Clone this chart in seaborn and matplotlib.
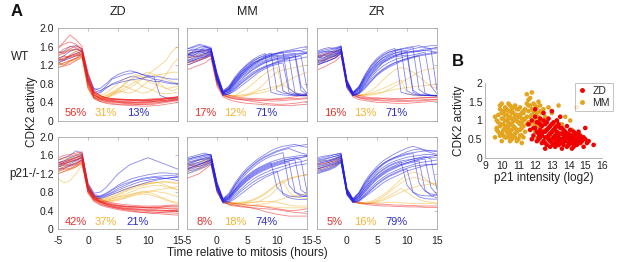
import numpy as np
import pandas as pd
import matplotlib
matplotlib.use("Agg")
import matplotlib.pyplot as plt
import seaborn as sns
from matplotlib.lines import Line2D

sns.set_theme(style="white")
plt.rcParams["font.family"] = ["Liberation Sans", "DejaVu Sans"]

# ---------------- data ----------------
T = list(range(-5, 16))  # hours relative to mitosis

# ZD, WT
zd_wt_red = [
    [1.30,1.35,1.40,1.45,1.50,0.85,0.55,0.48,0.45,0.44,0.43,0.42,0.42,0.41,0.41,0.40,0.42,0.43,0.45,0.47,0.48],
    [1.45,1.55,1.60,1.58,1.52,0.95,0.60,0.52,0.48,0.46,0.45,0.45,0.44,0.44,0.43,0.44,0.45,0.46,0.48,0.50,0.52],
    [1.20,1.25,1.30,1.35,1.40,0.80,0.50,0.42,0.40,0.38,0.36,0.36,0.35,0.35,0.36,0.37,0.38,0.40,0.42,0.44,0.46],
    [1.55,1.70,1.85,1.75,1.60,1.00,0.62,0.55,0.50,0.48,0.47,0.46,0.46,0.45,0.45,0.46,0.46,0.47,0.48,0.50,0.50],
    [1.35,1.30,1.38,1.42,1.48,0.90,0.58,0.50,0.46,0.44,0.42,0.41,0.40,0.40,0.41,0.42,0.43,0.44,0.45,0.46,0.47],
    [1.25,1.20,1.28,1.35,1.45,0.75,0.50,0.45,0.42,0.40,0.39,0.38,0.37,0.36,0.36,0.35,0.36,0.38,0.40,0.42,0.44],
    [1.40,1.48,1.52,1.55,1.50,0.88,0.56,0.50,0.47,0.46,0.46,0.45,0.45,0.46,0.46,0.47,0.48,0.49,0.50,0.51,0.52],
    [1.15,1.18,1.22,1.30,1.38,0.70,0.48,0.42,0.38,0.36,0.35,0.34,0.33,0.33,0.32,0.32,0.33,0.34,0.36,0.38,0.40],
    [1.50,1.45,1.55,1.62,1.55,0.95,0.62,0.54,0.50,0.48,0.47,0.47,0.46,0.46,0.45,0.45,0.46,0.47,0.48,0.49,0.50],
    [1.30,1.40,1.35,1.40,1.42,0.82,0.52,0.46,0.43,0.42,0.41,0.40,0.40,0.40,0.40,0.41,0.42,0.43,0.44,0.45,0.46],
    [1.60,1.65,1.70,1.65,1.55,1.05,0.65,0.55,0.50,0.48,0.47,0.46,0.45,0.44,0.44,0.44,0.45,0.46,0.48,0.50,0.52],
    [1.25,1.32,1.42,1.50,1.52,0.90,0.55,0.48,0.44,0.42,0.40,0.39,0.38,0.38,0.38,0.39,0.40,0.41,0.42,0.44,0.45],
]
zd_wt_yellow = [
    [1.30,1.35,1.40,1.45,1.40,0.80,0.55,0.50,0.55,0.62,0.70,0.75,0.70,0.65,0.60,0.62,0.70,0.85,1.00,1.20,1.35],
    [1.20,1.25,1.30,1.35,1.45,0.85,0.60,0.55,0.60,0.70,0.80,0.90,0.95,1.00,0.95,0.85,0.80,0.75,0.70,0.72,0.75],
    [1.45,1.50,1.55,1.50,1.40,0.75,0.50,0.45,0.48,0.55,0.60,0.65,0.72,0.80,0.90,1.00,1.10,1.20,1.30,1.50,1.60],
    [1.35,1.40,1.38,1.42,1.48,0.90,0.58,0.52,0.50,0.55,0.65,0.80,0.90,0.85,0.75,0.70,0.65,0.60,0.58,0.60,0.62],
    [1.25,1.22,1.30,1.32,1.40,0.78,0.52,0.48,0.52,0.58,0.62,0.70,0.78,0.85,0.92,0.95,0.98,1.00,1.02,1.05,1.05],
    [1.40,1.45,1.50,1.55,1.50,0.85,0.55,0.50,0.55,0.60,0.65,0.62,0.60,0.65,0.75,0.85,0.90,0.80,0.70,0.65,0.70],
    [1.15,1.20,1.25,1.30,1.35,0.70,0.50,0.45,0.50,0.58,0.68,0.78,0.88,0.95,1.00,1.05,1.00,0.95,0.90,0.85,0.80],
]
zd_wt_blue = [
    [1.35,1.40,1.50,1.55,1.50,0.90,0.65,0.62,0.75,0.90,0.95,1.00,1.02,1.05,1.00,0.98,0.95,0.95,0.92,0.90,0.90],
    [1.25,1.30,1.35,1.40,1.45,0.85,0.60,0.60,0.70,0.80,0.85,0.90,0.95,0.95,0.90,0.88,0.85,0.85,0.82,0.80,0.80],
    [1.45,1.50,1.60,1.62,1.55,1.00,0.70,0.65,0.72,0.78,0.82,0.85,0.88,0.90,0.92,0.95,0.95,0.55,0.50,0.48,0.50],
    [1.30,1.32,1.40,1.45,1.50,0.95,0.68,0.70,0.80,0.92,1.00,1.05,1.08,1.05,1.00,0.95,0.90,0.88,0.85,0.82,0.80],
]

# MM, WT
mm_wt_red = [
    [1.20,1.25,1.30,1.35,1.40,0.80,0.55,0.50,0.47,0.46,0.45,0.45,0.44,0.44,0.43,0.43,0.44,0.45,0.46,0.47,0.48],
    [1.35,1.40,1.38,1.45,1.48,0.88,0.58,0.52,0.50,0.48,0.47,0.46,0.45,0.45,0.46,0.46,0.47,0.48,0.48,0.49,0.50],
    [1.10,1.15,1.20,1.25,1.35,0.75,0.52,0.46,0.42,0.40,0.38,0.37,0.36,0.35,0.34,0.34,0.33,0.33,0.34,0.35,0.36],
    [1.45,1.48,1.50,1.52,1.50,0.92,0.60,0.55,0.52,0.50,0.49,0.48,0.48,0.47,0.47,0.48,0.49,0.50,0.52,0.55,0.58],
    [1.25,1.28,1.32,1.38,1.42,0.82,0.56,0.50,0.48,0.46,0.44,0.42,0.40,0.38,0.37,0.36,0.36,0.37,0.38,0.40,0.42],
]
mm_wt_yellow = [
    [1.30,1.35,1.40,1.42,1.45,0.85,0.58,0.55,0.55,0.56,0.58,0.62,0.70,0.82,0.95,1.05,1.10,1.12,1.15,1.18,1.20],
    [1.40,1.42,1.48,1.50,1.52,0.90,0.60,0.55,0.53,0.52,0.55,0.60,0.65,0.68,0.72,0.75,0.78,0.70,0.62,0.58,0.55],
    [1.25,1.28,1.32,1.36,1.40,0.80,0.55,0.52,0.55,0.62,0.70,0.80,0.92,1.02,1.10,1.15,0.65,0.58,0.55,0.55,0.56],
    [1.35,1.38,1.42,1.45,1.48,0.88,0.60,0.56,0.54,0.54,0.56,0.58,0.60,0.62,0.66,0.72,0.80,0.88,0.95,1.00,1.05],
]
mm_wt_blue = [
    [1.40,1.45,1.50,1.45,1.50,0.95,0.62,0.65,0.80,0.95,1.05,1.15,1.22,1.28,1.32,1.35,1.38,1.40,1.42,1.45,1.45],
    [1.30,1.35,1.40,1.42,1.48,0.90,0.58,0.62,0.75,0.88,1.00,1.10,1.18,1.25,1.30,1.34,1.36,1.38,0.60,0.55,0.55],
    [1.50,1.55,1.52,1.58,1.55,1.00,0.60,0.70,0.90,1.05,1.15,1.25,1.30,1.35,1.40,1.42,0.65,0.58,0.55,0.55,0.56],
    [1.45,1.40,1.48,1.50,1.52,0.92,0.60,0.68,0.85,1.00,1.12,1.22,1.30,1.38,1.42,1.45,1.48,1.50,1.52,1.50,1.48],
    [1.25,1.30,1.35,1.38,1.45,0.88,0.56,0.58,0.68,0.80,0.90,1.00,1.08,1.15,1.20,1.25,1.28,1.30,1.32,1.35,1.38],
    [1.55,1.60,1.65,1.62,1.58,1.05,0.65,0.75,0.95,1.10,1.22,1.32,1.40,1.45,0.62,0.58,0.56,0.55,0.55,0.54,0.54],
    [1.35,1.38,1.42,1.45,1.50,0.92,0.60,0.64,0.78,0.92,1.02,1.12,1.20,1.26,1.30,1.32,1.34,1.36,1.38,1.40,0.70],
    [1.40,1.50,1.55,1.52,1.55,0.98,0.62,0.70,0.88,1.02,1.15,1.25,1.32,1.38,1.42,1.46,1.50,1.52,1.55,1.58,1.60],
    [1.20,1.25,1.30,1.35,1.42,0.85,0.55,0.58,0.65,0.75,0.85,0.95,1.05,1.12,1.18,1.22,1.25,0.62,0.58,0.56,0.55],
    [1.45,1.48,1.50,1.55,1.52,0.96,0.62,0.68,0.82,0.98,1.10,1.20,1.28,1.34,1.38,1.40,1.42,1.44,1.46,0.75,0.60],
    [1.30,1.32,1.38,1.40,1.46,0.90,0.58,0.62,0.72,0.85,0.95,1.05,1.12,1.18,1.22,1.26,1.30,1.34,1.38,1.42,1.46],
    [1.50,1.52,1.58,1.60,1.55,1.02,0.64,0.72,0.90,1.05,1.18,1.28,1.36,1.42,1.46,0.65,0.60,0.58,0.57,0.56,0.56],
    [1.38,1.42,1.45,1.48,1.50,0.94,0.60,0.66,0.82,0.96,1.08,1.18,1.25,1.30,1.35,1.38,1.40,1.42,1.44,1.46,1.48],
    [1.28,1.30,1.35,1.38,1.44,0.88,0.57,0.60,0.70,0.82,0.92,1.02,1.10,1.16,1.22,1.28,1.32,1.36,1.40,0.65,0.58],
    [1.42,1.46,1.50,1.52,1.54,0.96,0.61,0.70,0.86,1.00,1.12,1.22,1.30,1.36,1.40,1.44,1.46,1.48,1.50,1.52,1.55],
    [1.55,1.58,1.62,1.60,1.56,1.00,0.63,0.74,0.92,1.08,1.20,1.30,1.36,1.40,1.44,1.46,1.48,0.70,0.60,0.58,0.58],
]

# ZR, WT
zr_wt_red = [
    [1.20,1.25,1.30,1.35,1.45,0.75,0.55,0.50,0.48,0.47,0.46,0.45,0.45,0.45,0.44,0.44,0.45,0.45,0.46,0.46,0.47],
    [1.35,1.40,1.45,1.48,1.52,0.82,0.58,0.52,0.50,0.49,0.48,0.48,0.47,0.47,0.47,0.48,0.48,0.49,0.50,0.50,0.51],
    [1.10,1.15,1.22,1.28,1.40,0.70,0.52,0.46,0.44,0.42,0.40,0.40,0.39,0.38,0.38,0.38,0.39,0.40,0.41,0.42,0.43],
    [1.40,1.42,1.48,1.50,1.55,0.85,0.60,0.55,0.52,0.50,0.50,0.49,0.49,0.48,0.48,0.48,0.49,0.50,0.50,0.51,0.52],
    [1.28,1.30,1.35,1.40,1.48,0.78,0.56,0.50,0.47,0.45,0.44,0.43,0.43,0.42,0.42,0.42,0.43,0.43,0.44,0.45,0.46],
]
zr_wt_yellow = [
    [1.30,1.32,1.38,1.42,1.50,0.78,0.56,0.55,0.58,0.65,0.75,0.88,1.00,1.10,1.15,1.12,1.05,0.95,0.85,0.75,0.70],
    [1.40,1.42,1.45,1.48,1.52,0.82,0.58,0.55,0.55,0.56,0.58,0.62,0.68,0.75,0.82,0.90,0.98,1.05,1.10,1.12,1.15],
    [1.25,1.28,1.32,1.38,1.45,0.74,0.55,0.54,0.56,0.60,0.65,0.70,0.76,0.82,0.88,0.60,0.55,0.54,0.54,0.55,0.55],
    [1.35,1.38,1.40,1.44,1.50,0.80,0.57,0.56,0.57,0.58,0.60,0.62,0.65,0.68,0.70,0.72,0.74,0.75,0.76,0.78,0.80],
]
zr_wt_blue = [
    [1.40,1.35,1.42,1.48,1.55,0.80,0.58,0.68,0.88,1.05,1.20,1.30,1.38,1.42,1.45,1.48,1.50,1.50,1.52,1.50,1.48],
    [1.30,1.32,1.38,1.42,1.50,0.78,0.56,0.62,0.80,0.98,1.12,1.25,1.32,1.38,1.40,1.42,0.62,0.56,0.55,0.55,0.54],
    [1.45,1.50,1.48,1.52,1.60,0.85,0.60,0.72,0.95,1.15,1.30,1.40,1.48,1.52,1.55,1.58,1.60,1.62,1.58,1.55,1.55],
    [1.25,1.28,1.35,1.40,1.48,0.75,0.55,0.60,0.75,0.90,1.02,1.12,1.20,1.26,1.30,1.34,1.38,1.40,0.60,0.55,0.54],
    [1.50,1.55,1.58,1.55,1.62,0.88,0.62,0.75,1.00,1.20,1.35,1.45,1.52,1.56,0.62,0.58,0.56,0.55,0.55,0.54,0.54],
    [1.35,1.40,1.42,1.45,1.52,0.80,0.58,0.66,0.85,1.02,1.18,1.28,1.35,1.40,1.44,1.46,1.48,1.50,1.52,1.54,0.65],
    [1.20,1.25,1.30,1.35,1.45,0.72,0.54,0.58,0.70,0.85,0.98,1.08,1.16,1.22,1.28,1.32,1.36,1.40,1.42,1.44,1.46],
    [1.42,1.45,1.50,1.50,1.56,0.84,0.60,0.70,0.92,1.10,1.25,1.36,1.44,1.50,1.54,1.56,1.58,0.68,0.58,0.56,0.55],
    [1.32,1.35,1.40,1.44,1.50,0.78,0.56,0.64,0.82,1.00,1.15,1.26,1.34,1.40,1.44,1.48,1.50,1.52,1.55,1.56,1.58],
    [1.48,1.52,1.55,1.58,1.60,0.86,0.61,0.73,0.98,1.18,1.32,1.42,1.48,1.52,1.55,0.65,0.58,0.56,0.55,0.55,0.55],
    [1.28,1.30,1.36,1.40,1.48,0.76,0.55,0.62,0.78,0.94,1.08,1.18,1.26,1.32,1.36,1.40,1.42,1.45,1.48,0.75,0.58],
    [1.38,1.42,1.46,1.48,1.54,0.82,0.59,0.68,0.90,1.08,1.22,1.32,1.40,1.46,1.50,1.52,1.55,1.58,1.60,1.62,1.62],
    [1.22,1.26,1.30,1.36,1.46,0.74,0.55,0.60,0.72,0.86,1.00,1.10,1.18,1.25,1.30,1.35,1.38,1.42,1.44,1.46,1.48],
    [1.45,1.48,1.52,1.55,1.58,0.85,0.60,0.72,0.94,1.12,1.26,1.36,1.42,1.46,1.48,1.50,0.66,0.58,0.56,0.55,0.55],
]

# ZD, p21-/-
zd_ko_red = [
    [1.40,1.45,1.50,1.55,1.60,0.90,0.70,0.60,0.55,0.50,0.48,0.46,0.45,0.44,0.43,0.42,0.42,0.41,0.40,0.40,0.40],
    [1.30,1.35,1.40,1.42,1.50,0.85,0.65,0.58,0.52,0.48,0.45,0.43,0.42,0.40,0.39,0.38,0.37,0.36,0.35,0.35,0.34],
    [1.50,1.55,1.58,1.62,1.65,0.95,0.72,0.62,0.58,0.55,0.52,0.50,0.49,0.48,0.47,0.47,0.46,0.46,0.45,0.45,0.45],
    [1.25,1.30,1.32,1.38,1.45,0.80,0.62,0.54,0.50,0.47,0.44,0.42,0.40,0.38,0.36,0.35,0.34,0.33,0.32,0.31,0.30],
    [1.45,1.42,1.48,1.52,1.58,0.88,0.68,0.60,0.56,0.53,0.50,0.48,0.47,0.46,0.46,0.45,0.45,0.44,0.44,0.43,0.43],
    [1.35,1.40,1.38,1.45,1.52,0.84,0.66,0.58,0.54,0.52,0.50,0.49,0.48,0.48,0.47,0.47,0.48,0.48,0.49,0.50,0.50],
    [1.20,1.25,1.30,1.35,1.42,0.78,0.60,0.52,0.48,0.45,0.42,0.40,0.38,0.37,0.36,0.35,0.35,0.36,0.37,0.38,0.38],
    [1.55,1.60,1.62,1.65,1.68,0.98,0.75,0.65,0.60,0.57,0.55,0.53,0.52,0.51,0.50,0.50,0.50,0.50,0.51,0.52,0.52],
    [1.38,1.42,1.46,1.50,1.55,0.86,0.67,0.59,0.54,0.50,0.47,0.45,0.44,0.43,0.42,0.41,0.41,0.40,0.40,0.40,0.41],
    [1.28,1.32,1.36,1.40,1.48,0.82,0.64,0.56,0.51,0.48,0.46,0.44,0.43,0.42,0.41,0.40,0.40,0.39,0.39,0.38,0.38],
    [1.42,1.48,1.52,1.56,1.60,0.92,0.70,0.61,0.56,0.53,0.51,0.50,0.49,0.48,0.48,0.47,0.47,0.47,0.48,0.48,0.48],
]
zd_ko_yellow = [
    [1.35,1.40,1.45,1.50,1.55,0.88,0.68,0.62,0.62,0.65,0.70,0.75,0.80,0.85,0.90,0.92,0.95,0.95,0.92,0.88,0.85],
    [1.25,1.30,1.28,1.35,1.45,0.82,0.64,0.60,0.62,0.66,0.70,0.72,0.75,0.78,0.80,0.82,0.84,0.86,0.88,0.90,0.92],
    [1.45,1.48,1.52,1.58,1.62,0.92,0.72,0.65,0.66,0.70,0.76,0.82,0.88,0.94,0.98,1.00,1.02,1.00,0.95,0.90,0.85],
    [1.10,1.00,1.05,1.20,1.40,0.80,0.62,0.58,0.58,0.60,0.62,0.66,0.70,0.74,0.76,0.75,0.72,0.68,0.62,0.58,0.55],
    [1.40,1.42,1.46,1.50,1.56,0.90,0.70,0.64,0.64,0.68,0.74,0.80,0.86,0.90,0.94,0.98,1.00,1.02,1.04,1.02,1.00],
    [1.30,1.35,1.38,1.42,1.50,0.86,0.66,0.60,0.60,0.62,0.66,0.70,0.74,0.78,0.82,0.80,0.76,0.70,0.65,0.60,0.58],
    [1.50,1.52,1.55,1.60,1.64,0.94,0.72,0.66,0.68,0.74,0.80,0.86,0.90,0.94,0.96,0.98,1.00,1.02,1.02,1.00,0.98],
    [1.20,1.25,1.30,1.36,1.46,0.84,0.65,0.60,0.60,0.62,0.64,0.68,0.72,0.76,0.78,0.80,0.82,0.80,0.78,0.74,0.70],
]
zd_ko_blue = [
    [1.40,1.45,1.50,1.55,1.60,0.92,0.72,0.70,0.76,0.84,0.92,0.98,1.02,1.06,1.10,1.12,1.14,1.15,1.16,1.16,1.15],
    [1.35,1.38,1.42,1.48,1.55,0.88,0.70,0.68,0.72,0.78,0.84,0.90,0.95,1.00,1.04,1.06,1.08,1.10,1.10,1.12,1.12],
    [1.50,1.55,1.60,1.70,1.65,1.00,0.78,0.80,0.90,1.05,1.20,1.30,1.40,1.45,1.50,1.55,1.50,1.45,1.40,1.35,1.30],
    [1.30,1.32,1.38,1.42,1.50,0.85,0.68,0.66,0.70,0.75,0.80,0.85,0.90,0.94,0.98,1.02,1.05,1.08,1.10,1.12,1.14],
    [1.45,1.48,1.55,1.60,1.62,0.95,0.75,0.72,0.78,0.86,0.95,1.02,1.08,1.12,1.15,1.18,1.20,1.22,1.22,1.20,1.20],
    [1.38,1.42,1.46,1.50,1.56,0.90,0.72,0.70,0.74,0.80,0.88,0.94,1.00,1.05,1.08,1.10,1.12,1.12,1.10,1.08,1.05],
]

# MM, p21-/-
mm_ko_red = [
    [1.30,1.35,1.40,1.45,1.50,0.85,0.60,0.52,0.50,0.48,0.47,0.46,0.45,0.44,0.43,0.42,0.40,0.38,0.36,0.35,0.34],
    [1.40,1.38,1.35,1.42,1.48,0.88,0.62,0.58,0.55,0.54,0.52,0.51,0.50,0.48,0.46,0.44,0.42,0.40,0.40,0.42,0.44],
    [1.10,1.15,1.20,1.30,1.40,0.80,0.58,0.54,0.52,0.50,0.48,0.45,0.42,0.38,0.35,0.32,0.30,0.28,0.28,0.28,0.28],
]
mm_ko_yellow = [
    [1.35,1.40,1.45,1.48,1.52,0.90,0.62,0.56,0.55,0.55,0.56,0.58,0.60,0.66,0.75,0.88,1.00,1.08,1.12,1.15,1.18],
    [1.25,1.30,1.32,1.38,1.45,0.84,0.60,0.56,0.56,0.56,0.57,0.58,0.59,0.60,0.60,0.58,0.55,0.52,0.50,0.50,0.50],
    [1.45,1.48,1.50,1.52,1.55,0.92,0.64,0.58,0.57,0.58,0.60,0.64,0.70,0.78,0.88,0.98,1.05,0.80,0.70,0.68,0.66],
    [1.30,1.34,1.38,1.42,1.48,0.86,0.60,0.55,0.54,0.53,0.52,0.52,0.53,0.55,0.58,0.62,0.66,0.70,0.72,0.74,0.76],
    [1.40,1.42,1.46,1.50,1.52,0.90,0.62,0.57,0.56,0.56,0.58,0.62,0.68,0.76,0.86,0.96,1.04,1.10,1.14,1.16,1.18],
    [1.20,1.24,1.28,1.34,1.42,0.82,0.58,0.54,0.52,0.50,0.50,0.50,0.50,0.50,0.48,0.47,0.46,0.46,0.46,0.46,0.46],
]
mm_ko_blue = [
    [1.40,1.45,1.50,1.52,1.55,0.95,0.62,0.68,0.85,1.00,1.12,1.22,1.30,1.36,1.42,1.46,1.50,1.52,1.55,1.56,1.58],
    [1.30,1.35,1.40,1.45,1.50,0.90,0.60,0.64,0.78,0.92,1.04,1.14,1.22,1.28,1.34,1.38,1.42,1.45,0.80,0.72,0.70],
    [1.50,1.55,1.58,1.60,1.62,1.00,0.65,0.74,0.95,1.12,1.26,1.38,1.48,1.56,1.62,1.68,1.72,1.75,1.70,1.65,1.62],
    [1.25,1.28,1.32,1.38,1.45,0.85,0.58,0.60,0.70,0.82,0.92,1.02,1.10,1.16,1.22,1.26,0.75,0.68,0.65,0.64,0.64],
    [1.45,1.48,1.52,1.55,1.58,0.96,0.63,0.70,0.88,1.04,1.16,1.26,1.34,1.40,1.46,1.50,1.54,1.56,1.58,1.60,1.60],
    [1.35,1.40,1.42,1.46,1.52,0.92,0.60,0.66,0.82,0.96,1.08,1.18,1.26,1.32,1.38,1.42,1.46,1.48,1.50,0.85,0.75],
    [1.55,1.58,1.62,1.65,1.60,1.02,0.66,0.78,1.00,1.18,1.32,1.44,1.54,1.62,1.70,1.76,1.80,1.82,1.84,1.80,1.78],
    [1.20,1.25,1.30,1.35,1.42,0.82,0.56,0.58,0.66,0.76,0.86,0.96,1.04,1.12,1.18,1.24,1.30,1.34,1.38,1.40,1.42],
    [1.42,1.46,1.50,1.54,1.56,0.94,0.62,0.70,0.86,1.02,1.14,1.24,1.32,1.38,1.44,0.90,0.78,0.72,0.70,0.70,0.72],
    [1.32,1.36,1.40,1.44,1.50,0.90,0.60,0.65,0.80,0.94,1.06,1.16,1.24,1.30,1.36,1.40,1.44,1.48,1.52,1.55,1.58],
    [1.48,1.52,1.55,1.58,1.60,0.98,0.64,0.72,0.92,1.08,1.22,1.34,1.44,1.52,1.58,1.62,1.66,0.95,0.80,0.75,0.72],
    [1.28,1.32,1.36,1.40,1.46,0.88,0.58,0.62,0.74,0.86,0.98,1.08,1.16,1.22,1.28,1.32,1.36,1.40,1.44,1.46,1.50],
    [1.38,1.42,1.45,1.50,1.54,0.93,0.61,0.68,0.84,0.98,1.10,1.20,1.28,1.34,1.40,1.44,1.48,1.52,1.54,1.50,0.80],
    [1.52,1.55,1.58,1.62,1.62,1.00,0.64,0.75,0.96,1.14,1.28,1.40,1.50,1.58,1.64,1.70,1.74,1.78,1.80,1.82,1.84],
]

# ZR, p21-/-
zr_ko_red = [
    [1.30,1.34,1.38,1.42,1.50,0.78,0.60,0.56,0.54,0.52,0.51,0.50,0.50,0.49,0.49,0.48,0.48,0.48,0.47,0.47,0.47],
    [1.40,1.42,1.45,1.48,1.55,0.82,0.62,0.58,0.56,0.55,0.54,0.54,0.53,0.52,0.52,0.51,0.51,0.50,0.50,0.50,0.50],
]
zr_ko_yellow = [
    [1.35,1.38,1.42,1.46,1.52,0.80,0.60,0.56,0.56,0.58,0.62,0.70,0.80,0.90,1.00,1.08,1.12,1.10,1.05,1.00,0.95],
    [1.25,1.28,1.32,1.38,1.46,0.76,0.58,0.55,0.55,0.55,0.56,0.57,0.58,0.58,0.57,0.56,0.55,0.55,0.55,0.55,0.55],
    [1.45,1.48,1.50,1.54,1.58,0.84,0.63,0.58,0.58,0.60,0.66,0.74,0.84,0.96,1.08,1.18,1.24,1.20,1.10,1.00,0.92],
    [1.30,1.32,1.36,1.40,1.48,0.78,0.59,0.56,0.55,0.56,0.58,0.62,0.68,0.74,0.80,0.86,0.90,0.94,0.96,0.98,1.00],
    [1.40,1.42,1.45,1.50,1.55,0.82,0.61,0.57,0.56,0.57,0.60,0.65,0.72,0.80,0.88,0.80,0.70,0.64,0.60,0.58,0.56],
]
zr_ko_blue = [
    [1.40,1.45,1.48,1.52,1.58,0.82,0.62,0.72,0.90,1.06,1.20,1.30,1.38,1.44,1.48,1.50,1.52,1.54,1.55,1.55,1.55],
    [1.30,1.34,1.38,1.42,1.50,0.78,0.60,0.66,0.80,0.95,1.08,1.18,1.26,1.32,1.38,1.42,1.45,1.48,0.85,0.72,0.68],
    [1.50,1.52,1.55,1.58,1.62,0.86,0.65,0.78,1.00,1.18,1.32,1.42,1.50,1.56,1.62,1.68,1.72,1.74,1.70,1.66,1.62],
    [1.25,1.28,1.32,1.38,1.46,0.75,0.58,0.62,0.72,0.84,0.96,1.06,1.14,1.20,1.26,1.30,0.80,0.70,0.66,0.65,0.65],
    [1.45,1.48,1.50,1.54,1.60,0.84,0.63,0.74,0.94,1.10,1.24,1.34,1.42,1.48,1.52,1.56,1.58,1.60,1.62,1.62,1.60],
    [1.35,1.38,1.42,1.46,1.54,0.80,0.61,0.68,0.84,1.00,1.12,1.22,1.30,1.36,1.40,1.44,1.48,1.50,1.52,0.90,0.75],
    [1.55,1.58,1.60,1.62,1.65,0.88,0.66,0.80,1.04,1.22,1.36,1.48,1.56,1.64,1.70,1.76,1.80,1.76,1.72,1.70,1.68],
    [1.20,1.24,1.28,1.34,1.44,0.74,0.57,0.60,0.70,0.80,0.90,1.00,1.08,1.14,1.20,1.26,1.30,1.34,1.38,1.40,1.42],
    [1.42,1.45,1.48,1.52,1.58,0.83,0.62,0.72,0.90,1.05,1.18,1.28,1.36,1.42,1.46,0.95,0.80,0.74,0.72,0.72,0.74],
    [1.32,1.35,1.40,1.44,1.52,0.79,0.60,0.67,0.82,0.97,1.10,1.20,1.28,1.34,1.40,1.44,1.48,1.52,1.55,1.58,1.60],
    [1.48,1.50,1.54,1.58,1.62,0.85,0.64,0.76,0.96,1.14,1.28,1.40,1.48,1.54,1.58,1.62,1.64,1.00,0.82,0.76,0.74],
    [1.28,1.30,1.35,1.40,1.48,0.77,0.59,0.64,0.76,0.90,1.02,1.12,1.20,1.26,1.32,1.36,1.40,1.44,1.46,1.48,1.50],
    [1.38,1.40,1.45,1.50,1.56,0.81,0.62,0.70,0.86,1.02,1.14,1.24,1.32,1.38,1.44,1.48,1.52,1.55,1.58,1.52,0.85],
    [1.52,1.55,1.58,1.62,1.64,0.87,0.65,0.78,1.00,1.16,1.30,1.42,1.50,1.56,1.60,1.64,1.66,1.68,1.70,1.70,1.70],
    [1.22,1.26,1.30,1.36,1.46,0.76,0.58,0.62,0.74,0.86,0.98,1.08,1.16,1.22,1.28,1.32,1.36,1.38,1.40,1.40,1.40],
]

# percentages per panel (red, yellow, blue)
pct_zd_wt = ["56%", "31%", "13%"]
pct_mm_wt = ["17%", "12%", "71%"]
pct_zr_wt = ["16%", "13%", "71%"]
pct_zd_ko = ["42%", "37%", "21%"]
pct_mm_ko = ["8%", "18%", "74%"]
pct_zr_ko = ["5%", "16%", "79%"]

conditions = ["ZD", "MM", "ZR"]
genotypes = ["WT", "p21-/-"]

# Panel B scatter: p21 intensity (log2) vs CDK2 activity
mm_p21 = [9.6,9.8,9.9,10.0,10.0,10.1,10.1,10.2,10.2,10.3,10.3,10.4,10.4,10.5,10.5,10.6,10.6,10.7,10.7,10.8,
          10.8,10.9,10.9,11.0,11.0,11.1,11.1,11.2,11.2,11.3,11.3,9.7,9.9,10.0,10.2,10.4,10.6,10.8,11.0,11.4,
          9.8,10.1,10.3,10.5,10.7,10.9,11.1,11.2,10.4,10.6,11.4,11.5,11.5,11.6,11.6,11.7,11.7,11.8,11.8,11.9,
          11.9,12.0,12.0,12.1,12.2,12.2,12.3,12.4,12.5,11.5,11.6,12.1,11.8,12.6,12.6,12.8,13.0,13.2,13.4,13.5,
          13.8,14.0,14.2,14.5,14.6,12.9,13.3,14.8,13.7,12.4,12.0,11.9,9.7,10.0,10.3,10.5,10.8,11.0,11.2,10.2,
          10.9,10.1,11.3,10.6,9.9,11.7,12.3,11.4,10.7,11.1,
          9.7,9.8,9.9,10.0,10.0,10.1,10.1,10.2,10.2,10.3,10.3,10.4,10.4,10.5,10.5,10.6,10.6,10.7,10.7,10.8,
          10.8,10.9,10.9,11.0,11.0,11.1,11.1,11.2,11.2,11.3,11.3,11.4,11.5,11.6,11.7,11.8,11.9,12.0,12.1,12.2,
          12.3,12.4,12.7,13.1,13.6,14.1,10.0,10.5,9.6,9.9]
mm_cdk2 = [0.55,0.70,1.30,1.20,0.90,0.60,1.05,1.35,0.80,1.15,0.55,0.95,1.25,0.70,1.40,1.05,0.50,0.85,1.20,0.65,
           1.00,1.30,0.45,0.75,1.10,0.90,0.60,1.20,0.80,1.00,0.55,1.00,0.85,1.45,1.00,0.65,1.30,1.40,0.50,0.70,
           1.15,0.75,0.85,1.10,0.60,1.00,1.35,0.40,1.45,0.75,1.30,1.45,1.10,1.25,0.95,1.40,1.60,1.15,1.30,1.00,
           1.45,1.20,0.90,1.35,1.10,1.50,1.25,0.95,1.30,1.70,1.55,1.00,1.75,1.10,0.75,1.35,1.20,0.85,1.40,0.65,
           1.10,0.55,0.75,1.35,0.55,0.60,1.00,0.45,0.45,0.60,0.70,0.55,0.80,0.65,1.00,0.90,1.10,0.95,1.05,1.15,
           0.70,1.25,1.25,0.90,0.60,0.90,1.40,1.05,1.00,1.15,
           0.75,0.95,0.60,1.05,0.65,1.25,0.90,0.55,1.15,0.70,1.30,0.80,1.05,0.55,0.90,1.20,0.60,1.00,1.35,0.80,
           0.55,1.15,0.70,0.95,1.30,0.75,1.10,0.95,0.60,1.20,0.85,1.05,0.90,1.40,1.10,0.95,1.25,1.40,1.20,0.85,
           1.05,1.20,1.00,0.70,0.90,1.00,0.45,0.45,1.10,1.40]
zd_p21 = [11.6,11.7,11.8,11.9,12.0,12.0,12.1,12.2,12.2,12.3,12.3,12.4,12.4,12.5,12.5,12.6,12.6,12.7,12.7,12.8,
          12.8,12.9,12.9,13.0,13.0,13.1,13.1,13.2,13.2,13.3,13.3,13.4,13.4,13.5,13.5,13.6,13.6,13.7,13.7,13.8,
          13.8,13.9,13.9,14.0,14.0,14.1,14.1,14.2,14.2,14.3,14.3,14.4,14.4,14.5,14.5,14.6,14.7,14.7,14.8,14.9,
          15.0,15.0,15.2,15.5,12.0,12.5,13.0,13.5,11.8,12.1,12.9,13.3,13.9,14.6,12.6,13.6,12.3,13.1,13.7,14.2,
          12.2,12.7,13.2,13.8,14.3,12.4,12.9,13.4,14.0,14.8,
          11.9,12.1,12.2,12.4,12.5,12.6,12.7,12.8,12.9,13.0,13.0,13.1,13.2,13.3,13.4,13.4,13.5,13.5,13.6,13.7,
          13.8,13.9,14.0,14.1,14.2,14.3,14.4,14.5,14.6,14.7,14.9,15.1,12.3,12.6,13.2,13.9,14.4,12.8,13.6,14.0]
zd_cdk2 = [0.90,0.75,1.00,0.60,1.10,0.80,0.45,0.95,0.65,1.05,0.55,0.85,0.40,0.70,1.00,0.55,0.90,0.35,0.75,0.60,
           1.05,0.45,0.85,0.70,0.50,0.95,0.35,0.60,0.80,0.45,0.70,0.55,0.90,0.40,0.65,0.50,0.80,0.35,0.60,0.45,
           0.70,0.55,0.30,0.65,0.45,0.50,0.75,0.40,0.60,0.50,0.30,0.65,0.45,0.55,0.35,0.50,0.40,0.60,0.45,0.30,
           0.50,0.80,0.45,0.35,1.30,1.20,1.25,1.10,0.50,0.70,0.30,1.00,0.85,0.70,0.25,0.25,0.75,0.55,0.50,0.25,
           0.50,0.55,0.40,0.55,0.40,0.60,0.65,0.35,0.35,0.55,
           0.80,0.95,0.55,0.65,0.45,0.70,0.95,0.50,0.65,0.90,0.40,0.75,0.50,0.85,0.35,0.65,0.80,0.50,0.65,0.75,
           0.55,0.65,0.35,0.60,0.50,0.70,0.55,0.45,0.60,0.50,0.55,0.40,0.90,0.40,0.30,0.45,0.35,0.80,0.40,0.55]

# ---------------- assemble ----------------
panel_data = {
    ("WT", "ZD"): (zd_wt_red, zd_wt_yellow, zd_wt_blue, pct_zd_wt),
    ("WT", "MM"): (mm_wt_red, mm_wt_yellow, mm_wt_blue, pct_mm_wt),
    ("WT", "ZR"): (zr_wt_red, zr_wt_yellow, zr_wt_blue, pct_zr_wt),
    ("p21-/-", "ZD"): (zd_ko_red, zd_ko_yellow, zd_ko_blue, pct_zd_ko),
    ("p21-/-", "MM"): (mm_ko_red, mm_ko_yellow, mm_ko_blue, pct_mm_ko),
    ("p21-/-", "ZR"): (zr_ko_red, zr_ko_yellow, zr_ko_blue, pct_zr_ko),
}

rows = []
uid = 0
for (g, c), (reds, yels, blues, _) in panel_data.items():
    for cls, traces in (("red", reds), ("yellow", yels), ("blue", blues)):
        for tr in traces:
            for t, v in zip(T, tr):
                rows.append((g, c, cls, uid, t, v))
            uid += 1
df = pd.DataFrame(rows, columns=["geno", "cond", "cls", "uid", "t", "v"])

LINE = {"red": "#ee1c1c", "yellow": "#f2b22a", "blue": "#2222e6"}
TXT = {"red": "#e8302c", "yellow": "#f3b431", "blue": "#2d2dc8"}
GRID = "#a8a8a8"

W, H = 617, 262
fig = plt.figure(figsize=(W / 100, H / 100), dpi=100)


def add_ax(l, t, r, b):
    return fig.add_axes([l / W, 1 - b / H, (r - l) / W, (b - t) / H])


col_px = [(58, 178), (187, 307), (317, 437)]
row_px = [(28, 121), (137, 229)]

for ri, g in enumerate(genotypes):
    for ci, c in enumerate(conditions):
        l, r = col_px[ci]
        t, b = row_px[ri]
        ax = add_ax(l, t, r, b)
        sub = df[(df.geno == g) & (df.cond == c)]
        order = ["yellow", "blue", "red"] if c == "ZD" else ["yellow", "red", "blue"]
        for cls in order:
            d = sub[sub.cls == cls]
            sns.lineplot(data=d, x="t", y="v", units="uid", estimator=None,
                         color=LINE[cls], lw=0.6, alpha=0.55, ax=ax, legend=False)
        ax.set_xlim(-5, 15)
        ax.set_ylim(0, 2)
        ax.set_xticks([-5, 0, 5, 10, 15])
        ax.set_yticks([0, 0.4, 0.8, 1.2, 1.6, 2.0])
        ax.set_xlabel("")
        ax.set_ylabel("")
        if ci == 0:
            ax.set_yticklabels(["0", "0.4", "0.8", "1.2", "1.6", "2.0"])
        else:
            ax.set_yticklabels([])
        if ri == 1:
            ax.set_xticklabels(["-5", "0", "5", "10", "15"])
        else:
            ax.set_xticklabels([])
        for s in ax.spines.values():
            s.set_color(GRID)
            s.set_linewidth(0.6)
        ax.tick_params(direction="in", length=2, width=0.5, color=GRID,
                       top=True, right=True, labelsize=7.5, labelcolor="#222222")
        ax.tick_params(axis="y", pad=3)
        ax.tick_params(axis="x", pad=5)
        pcts = panel_data[(g, c)][3]
        ty = 0.085 if ri == 0 else 0.075
        for xf, cls, s in zip([0.15, 0.40, 0.665], ["red", "yellow", "blue"], pcts):
            ax.text(xf, ty, s, transform=ax.transAxes, ha="center", va="center",
                    color=TXT[cls], fontsize=8)
        if ri == 0:
            fig.text((l + r) / 2 / W, 1 - 12 / H, c, ha="center", va="center",
                     fontsize=9, color="#222222")

fig.text(20 / W, 1 - 57 / H, "WT", ha="center", va="center", fontsize=8.5, color="#222222")
fig.text(25 / W, 1 - 174 / H, "p21-/-", ha="center", va="center", fontsize=8.5, color="#222222")
fig.text(32 / W, 1 - 112 / H, "CDK2 activity", rotation=90, ha="center", va="center",
         fontsize=8.5, color="#222222")
fig.text(247 / W, 1 - 253 / H, "Time relative to mitosis (hours)", ha="center", va="center",
         fontsize=8.5, color="#222222")
fig.text(17 / W, 1 - 12 / H, "A", ha="center", va="center", fontsize=12,
         fontweight="bold", color="#111111")
fig.text(458 / W, 1 - 61 / H, "B", ha="center", va="center", fontsize=12,
         fontweight="bold", color="#111111")

# Panel B
axB = add_ax(485, 83, 602, 158)
sc = pd.DataFrame({
    "p21": mm_p21 + zd_p21,
    "cdk2": mm_cdk2 + zd_cdk2,
    "cond": ["MM"] * len(mm_p21) + ["ZD"] * len(zd_p21),
})
sns.scatterplot(data=sc, x="p21", y="cdk2", hue="cond", hue_order=["MM", "ZD"],
                palette={"MM": "#e3a520", "ZD": "#f00000"}, s=11, linewidth=0,
                ax=axB, legend=False)
axB.set_xlim(9, 16)
axB.set_ylim(0, 2)
axB.set_xticks(range(9, 17))
axB.set_yticks([0, 0.5, 1, 1.5, 2])
axB.set_yticklabels(["0", "0.5", "1", "1.5", "2"])
axB.set_xlabel("p21 intensity (log2)", fontsize=8.5, color="#222222", labelpad=1)
axB.set_ylabel("CDK2 activity", fontsize=8.5, color="#222222", labelpad=2)
axB.spines["top"].set_visible(False)
axB.spines["right"].set_visible(False)
for s in ("left", "bottom"):
    axB.spines[s].set_color(GRID)
    axB.spines[s].set_linewidth(0.6)
axB.tick_params(direction="in", length=2, width=0.5, color=GRID, labelsize=7.5,
                labelcolor="#222222", pad=2)
handles = [Line2D([], [], marker="o", ls="", color="#f00000", markersize=2.5),
           Line2D([], [], marker="o", ls="", color="#e3a520", markersize=2.5)]
leg = axB.legend(handles, ["ZD", "MM"], loc="upper right", bbox_to_anchor=(1.095, 1.0),
                 fontsize=7.5, frameon=True, borderaxespad=0, handlelength=0.8,
                 handletextpad=0.6, borderpad=0.3, labelspacing=0.15, fancybox=False)
leg.get_frame().set_edgecolor(GRID)
leg.get_frame().set_linewidth(0.6)

fig.savefig("out.png", dpi=100)
